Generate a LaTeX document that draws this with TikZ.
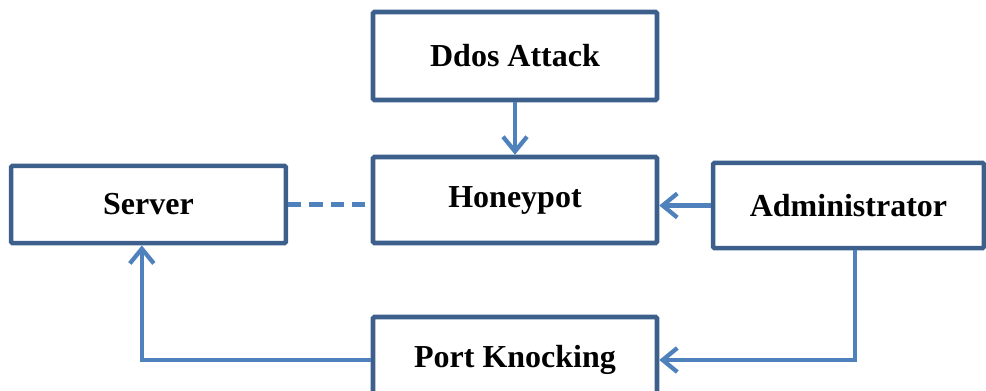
\documentclass[tikz,border=0pt]{standalone}
\usepackage{fontspec}
\setmainfont{Liberation Serif}
\usetikzlibrary{arrows.meta}
\definecolor{boxline}{RGB}{60,95,140}
\definecolor{flowline}{RGB}{79,129,189}
\begin{document}
\begin{tikzpicture}[x=0.75pt, y=-0.75pt,
    box/.style={draw=boxline, line width=3.4pt, rounded corners=1pt,
      font=\fontsize{24}{28}\selectfont\bfseries, inner sep=0pt},
    flow/.style={draw=flowline, line width=3.2pt,
      -{Straight Barb[length=11pt,width=18pt,line width=3.2pt]}}]
  \useasboundingbox (0,0) rectangle (986,391);
  \node (D) [box, minimum width=213pt, minimum height=66pt] at (515,56) {Ddos Attack};
  \node (H) [box, minimum width=213pt, minimum height=64.5pt] at (515,200) {Honeypot};
  \node (S) [box, minimum width=206pt, minimum height=58pt] at (148.5,204.5) {Server};
  \node (A) [box, minimum width=203pt, minimum height=64pt] at (848.5,205.5) {Administrator};
  \node (P) [box, minimum width=213pt, minimum height=64.5pt] at (515,360) {Port Knocking};
  \draw[flow] (D) -- (H);
  \draw[flow] (A.west) -- (H.east |- A.west);
  \draw[draw=flowline, line width=3.2pt, dash pattern=on 10pt off 6pt] (S.east) -- (H.west |- S.east);
  \draw[flow] ([xshift=5pt]A.south) |- (P.east);
  \draw[flow] (P.west) -| ([xshift=-5pt]S.south);
\end{tikzpicture}
\end{document}
